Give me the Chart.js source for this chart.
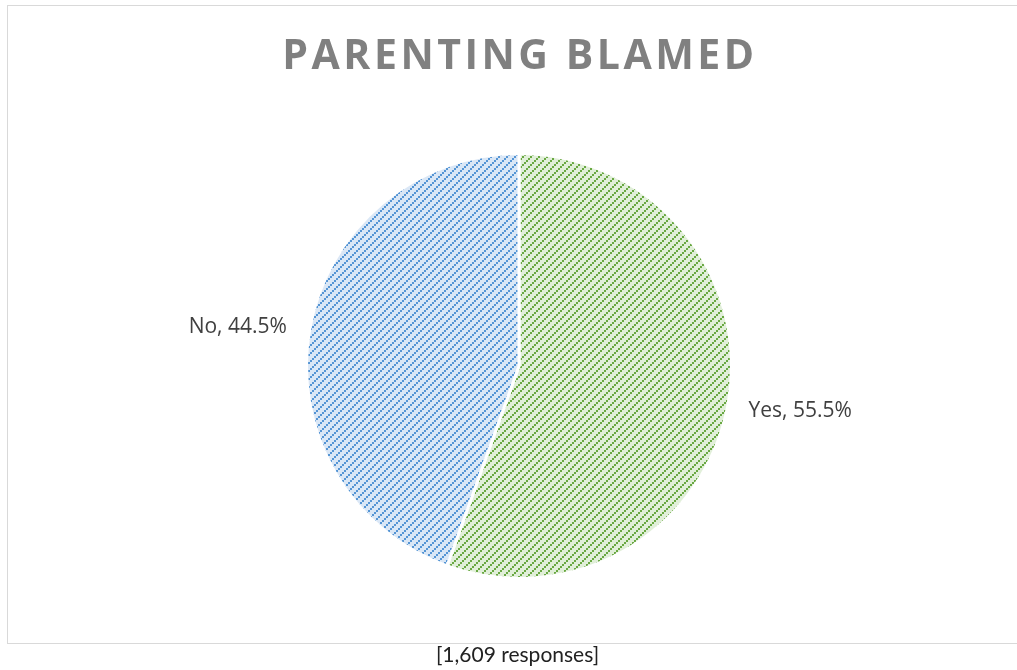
<!DOCTYPE html>
<html lang="en">
<head>
    <meta charset="utf-8">
    <title>Parenting Blamed</title>
    <script src="https://cdn.jsdelivr.net/npm/chart.js"></script>
    <style>
        body {
            margin: 0;
            background: #fff;
            width: 1017px;
            height: 670px;
            overflow: hidden;
            position: relative;
        }

        #frame {
            position: absolute;
            left: 7px;
            top: 5px;
            width: 1020px;
            height: 637px;
            border: 1px solid #d9d9d9;
        }

        #pieWrap {
            position: absolute;
            left: 0;
            top: 0;
            width: 1017px;
            height: 670px;
        }

        .caption {
            position: absolute;
            left: 9px;
            width: 1017px;
            top: 641px;
            text-align: center;
            font-family: Lato, sans-serif;
            font-size: 21px;
            color: #222;
        }
    </style>
</head>
<body>
    <div id="frame"></div>
    <div id="pieWrap">
        <canvas id="blameChart"></canvas>
    </div>
    <div class="caption">[1,609 responses]</div>

    <script>
        // data
        const chartTitle = 'PARENTING BLAMED';
        const labels = ['Yes', 'No'];
        const values = [55.5, 44.5];
        const stripeColors = ['#69a842', '#5595d4'];
        const fillColors = ['#e1efd9', '#dae7f6'];

        // dotted diagonal stripe, like excel's pattern fill
        function makePattern(bg, fg) {
            const tile = document.createElement('canvas');
            tile.width = 8;
            tile.height = 8;
            const t = tile.getContext('2d');
            t.fillStyle = bg;
            t.fillRect(0, 0, 8, 8);
            t.fillStyle = fg;
            for (let k = 0; k < 4; k++) {
                t.fillRect(2 * k, 6 - 2 * k, 2, 2);
            }
            return t.createPattern(tile, 'repeat');
        }

        const patterns = labels.map((l, i) => makePattern(fillColors[i], stripeColors[i]));

        const titlePlugin = {
            id: 'bigTitle',
            afterDraw(chart) {
                const ctx = chart.ctx;
                ctx.save();
                ctx.font = 'bold 41px "Open Sans"';
                ctx.letterSpacing = '3.5px';
                ctx.fillStyle = '#808080';
                ctx.textAlign = 'center';
                ctx.textBaseline = 'middle';
                ctx.fillText(chartTitle, 520, 57);
                ctx.restore();
            }
        };

        const labelPlugin = {
            id: 'outLabels',
            afterDatasetsDraw(chart) {
                const ctx = chart.ctx;
                const meta = chart.getDatasetMeta(0);
                ctx.save();
                ctx.font = '21px "Open Sans"';
                ctx.fillStyle = '#404040';
                ctx.textAlign = 'center';
                ctx.textBaseline = 'middle';
                meta.data.forEach((arc, i) => {
                    const mid = (arc.startAngle + arc.endAngle) / 2;
                    const dist = arc.outerRadius + 73;
                    const x = arc.x + Math.cos(mid) * dist;
                    const y = arc.y + Math.sin(mid) * dist * 0.85 + 3;
                    ctx.fillText(labels[i] + ', ' + values[i].toFixed(1) + '%', x, y);
                });
                ctx.restore();
            }
        };

        new Chart(document.getElementById('blameChart'), {
            type: 'pie',
            data: {
                labels: labels,
                datasets: [{
                    data: values,
                    backgroundColor: patterns,
                    borderColor: '#ffffff',
                    borderWidth: 3
                }]
            },
            options: {
                responsive: true,
                maintainAspectRatio: false,
                animation: false,
                layout: {
                    padding: { top: 152, bottom: 90, left: 21, right: 0 }
                },
                plugins: {
                    legend: { display: false },
                    tooltip: { enabled: false }
                }
            },
            plugins: [titlePlugin, labelPlugin]
        });
    </script>
</body>
</html>
